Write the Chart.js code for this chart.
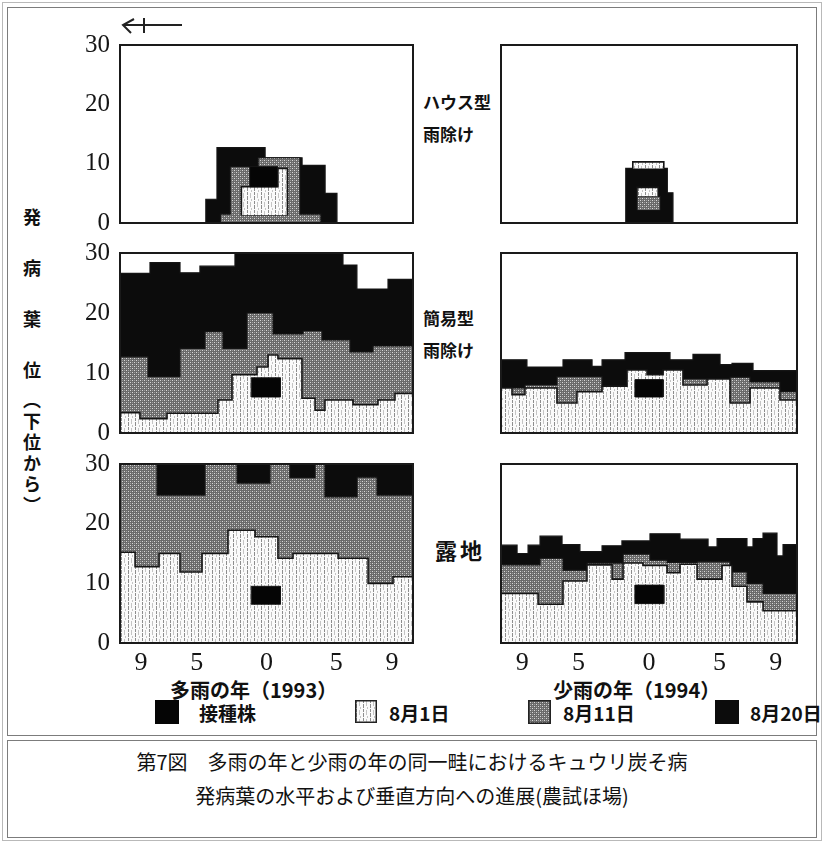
<!DOCTYPE html>
<html lang="ja">
<head>
<meta charset="utf-8">
<script src="https://cdn.jsdelivr.net/npm/chart.js@4.4.1/dist/chart.umd.min.js"></script>
<style>
  html, body { margin: 0; padding: 0; background: #fff; }
  body { width: 824px; height: 843px; position: relative; overflow: hidden;
         font-family: "Noto Sans CJK JP", "Noto Sans", sans-serif; color: #111; }
  .box { position: absolute; box-sizing: border-box; }
  .outer { left: 2px; top: 2px; width: 820px; height: 839px; border: 1px solid #b9b9b9; }
  .cell { border: 1px solid #7c7c7c; }
  canvas.panel { position: absolute; }
  .t { position: absolute; white-space: nowrap; line-height: 1; }
  .vert { writing-mode: vertical-rl; font-weight: 700; font-size: 18px; }
  .row { font-size: 17px; font-weight: 700; line-height: 32px; }
  .xt { font-size: 20px; font-weight: 700; }
  .lg { font-size: 19px; font-weight: 700; }
  .cap { font-size: 20px; left: 0; width: 824px; text-align: center; }
  canvas.sw { position: absolute; }
</style>
</head>
<body>
<div class="box outer"></div>
<div class="box cell" style="left:7px; top:7px; width:810px; height:729px;"></div>
<div class="box cell" style="left:7px; top:740px; width:810px; height:98px;"></div>

<svg style="position:absolute; left:118px; top:16px;" width="70" height="22">
  <path d="M5 9 L64 9" stroke="#222" stroke-width="2" fill="none"/>
  <path d="M16 3 L5 9 L13 17" stroke="#222" stroke-width="2" fill="none"/>
  <path d="M26 2 L26 17" stroke="#222" stroke-width="2"/>
</svg>

<div class="t vert" style="left:23px; top:208px; letter-spacing:33px;">発病葉位</div>
<div class="t vert" style="left:23px; top:391px; letter-spacing:3px;">（下位から）</div>

<div class="t row" style="left:423px; top:86px;">ハウス型<br>雨除け</div>
<div class="t row" style="left:423px; top:302px;">簡易型<br>雨除け</div>
<div class="t row" style="left:435px; top:533px; font-size:22px; letter-spacing:3px;">露地</div>

<div class="t xt" style="left:170px; top:680px;">多雨の年（1993）</div>
<div class="t xt" style="left:553px; top:680px;">少雨の年（1994）</div>

<canvas class="sw" id="sw0" width="24" height="24" style="left:155px; top:700px;"></canvas>
<div class="t lg" style="left:199px; top:703px;">接種株</div>
<canvas class="sw" id="sw1" width="22" height="23" style="left:355px; top:700px;"></canvas>
<div class="t lg" style="left:389px; top:703px;">8月1日</div>
<canvas class="sw" id="sw2" width="23" height="24" style="left:528px; top:700px;"></canvas>
<div class="t lg" style="left:563px; top:703px;">8月11日</div>
<canvas class="sw" id="sw3" width="24" height="24" style="left:715px; top:700px;"></canvas>
<div class="t lg" style="left:750px; top:703px;">8月20日</div>

<div class="t cap" style="top:752px;">第7図　多雨の年と少雨の年の同一畦におけるキュウリ炭そ病</div>
<div class="t cap" style="top:786px;">発病葉の水平および垂直方向への進展(農試ほ場)</div>

<canvas class="panel" id="pA" width="370" height="210" style="left:50px; top:30px;"></canvas>
<canvas class="panel" id="pD" width="315" height="210" style="left:490px; top:30px;"></canvas>
<canvas class="panel" id="pB" width="370" height="212" style="left:50px; top:238px;"></canvas>
<canvas class="panel" id="pE" width="315" height="212" style="left:490px; top:238px;"></canvas>
<canvas class="panel" id="pC" width="370" height="229" style="left:50px; top:449px;"></canvas>
<canvas class="panel" id="pF" width="315" height="229" style="left:490px; top:449px;"></canvas>

<script>
// Plant position along the row (0 = inoculated plant) and diseased leaf position (from the bottom).
const xTicks = [-9, -5, 0, 5, 9];
const yTicks = [0, 10, 20, 30];

// Each layer is a list of pieces; a piece is a list of steps [x, lowerLeaf, upperLeaf]
// closed by [xEnd].

// 多雨の年 (1993) — ハウス型雨除け
const wetHouseAug20 = [[[-4.35, 0, 4], [-3.55, 0, 12.7], [-0.1, 0, 11], [2.55, 0, 9.7], [4.2, 0, 5], [5.05]]];
const wetHouseAug11 = [[[-3.3, 0, 1.5], [-2.6, 0, 9.5], [-0.6, 0, 11], [2.4, 0, 1.5], [3.9]]];
const wetHouseAug1  = [[[-1.8, 1.3, 6.1], [0.8, 1.3, 9.2], [1.5]]];
const wetHouseInoc  = [[[-1.2, 6.1, 9.5], [0.8]]];

// 多雨の年 (1993) — 簡易型雨除け
const wetSimpleAug20 = [[[-10.5, 0, 26.6], [-8.35, 0, 28.4], [-6.2, 0, 26.7], [-4.77, 0, 27.8], [-2.26, 0, 30],
  [5.48, 0, 28], [6.48, 0, 24], [8.71, 0, 25.6], [10.5]]];
const wetSimpleAug11 = [[[-10.5, 0, 12.7], [-8.49, 0, 9.4], [-6.2, 0, 14.1], [-4.41, 0, 16.9], [-3.12, 0, 14.1],
  [-1.4, 0, 20], [0.47, 0, 16.5], [2.62, 0, 17], [3.98, 0, 15.5], [5.99, 0, 13.5], [7.63, 0, 14.5], [10.5]]];
const wetSimpleAug1 = [[[-10.5, 0, 3.4], [-9.07, 0, 2.4], [-7.13, 0, 3.3], [-3.48, 0, 5.5], [-2.47, 0, 9.7],
  [-0.68, 0, 11], [0.11, 0, 13], [0.82, 0, 12.4], [2.54, 0, 5.8], [3.48, 0, 3.8], [4.19, 0, 5.5],
  [6.2, 0, 4.7], [7.99, 0, 5.5], [9.21, 0, 6.6], [10.5]]];
const wetSimpleInoc = [[[-1.1, 6, 9.2], [1.0]]];

// 多雨の年 (1993) — 露地
const wetOpenAug20 = [[[-10.5, 0, 30], [10.5]]];
const wetOpenAug11 = [[[-10.5, 0, 30], [-7.85, 0, 24.8], [-4.41, 0, 30], [-2.11, 0, 26.8], [0.25, 0, 30],
  [1.68, 0, 27.7], [3.48, 0, 30], [4.19, 0, 24.5], [6.49, 0, 27.8], [7.92, 0, 24.8], [10.5]]];
const wetOpenAug1 = [[[-10.5, 0, 15.2], [-9.42, 0, 12.8], [-7.7, 0, 15], [-6.2, 0, 11.9], [-4.62, 0, 15],
  [-2.76, 0, 18.9], [-0.82, 0, 17.8], [0.82, 0, 14.2], [1.9, 0, 15], [5.13, 0, 14.2], [7.28, 0, 10],
  [9.07, 0, 11.1], [10.5]]];
const wetOpenInoc = [[[-1.1, 6.5, 9.5], [1.0]]];

// 少雨の年 (1994) — ハウス型雨除け
const dryHouseAug20 = [[[-1.65, 0, 9.2], [1.3, 0, 5.1], [1.7]]];
const dryHouseAug11 = [[[-0.85, 2.2, 4.5], [0.8]]];
const dryHouseAug1  = [[[-0.85, 4.5, 6.0], [0.65]], [[-1.15, 9.2, 10.3], [1.05]]];
const dryHouseInoc  = [];

// 少雨の年 (1994) — 簡易型雨除け
const drySimpleAug20 = [[[-10.5, 0, 12.2], [-8.66, 0, 11], [-6.1, 0, 12.2], [-4.04, 0, 11.1], [-3.33, 0, 12.2],
  [-1.7, 0, 13.4], [1.49, 0, 12.2], [3.12, 0, 13.1], [5.04, 0, 11.4], [5.89, 0, 11.6], [7.38, 0, 10.4], [10.5]]];
const drySimpleAug11 = [[[-10.5, 0, 7.5], [-9.72, 0, 7.5], [-8.8, 0, 8], [-6.53, 0, 9.4], [-3.33, 0, 7.8],
  [-1.56, 0, 10.5], [-0.14, 0, 9.7], [1.0, 0, 10.5], [2.41, 0, 9.0], [5.75, 0, 9.3], [7.17, 0, 8.5],
  [9.29, 0, 6.9], [10.5]]];
const drySimpleAug1 = [[[-10.5, 0, 7.5], [-9.72, 0, 6.4], [-8.8, 0, 7.5], [-6.53, 0, 5.0], [-5.11, 0, 6.9],
  [-3.33, 0, 7.8], [-1.56, 0, 10.5], [-0.14, 0, 9.7], [1.0, 0, 10.5], [2.41, 0, 8.0], [4.12, 0, 9.0],
  [5.75, 0, 5.0], [7.17, 0, 7.5], [9.29, 0, 5.5], [10.5]]];
const drySimpleInoc = [[[-1.0, 6, 8.9], [1.0]]];

// 少雨の年 (1994) — 露地
const dryOpenAug20 = [[[-10.5, 0, 16.4], [-9.36, 0, 15], [-8.58, 0, 16.4], [-7.73, 0, 17.9], [-6.17, 0, 16.5],
  [-4.9, 0, 15.3], [-3.33, 0, 16.3], [-1.92, 0, 17.1], [0.07, 0, 18.3], [2.2, 0, 17.4], [4.19, 0, 16.1],
  [4.83, 0, 17.5], [6.95, 0, 16.1], [7.38, 0, 17.5], [8.09, 0, 18.4], [9.08, 0, 14.6], [9.51, 0, 16.5], [10.5]]];
const dryOpenAug11 = [[[-10.5, 0, 13.1], [-7.73, 0, 14.2], [-6.1, 0, 12.2], [-4.4, 0, 13.4], [-1.84, 0, 14.9],
  [0.07, 0, 13.9], [1.28, 0, 13.5], [3.41, 0, 13.6], [5.75, 0, 11.9], [6.95, 0, 10], [8.09, 0, 8.3], [10.5]]];
const dryOpenAug1 = [[[-10.5, 0, 8.3], [-7.87, 0, 6.5], [-6.1, 0, 10.4], [-4.4, 0, 13.1], [-2.62, 0, 10.7],
  [-1.84, 0, 13.4], [-0.43, 0, 13], [1.28, 0, 11.8], [2.2, 0, 13.2], [3.41, 0, 10.7], [5.18, 0, 13],
  [5.89, 0, 9.5], [6.95, 0, 6.9], [8.09, 0, 5.4], [10.5]]];
const dryOpenInoc = [[[-1.0, 6.6, 9.7], [1.05]]];

// ---- fills ----
function makePattern(w, h, paint) {
  const c = document.createElement('canvas');
  c.width = w; c.height = h;
  const g = c.getContext('2d');
  paint(g);
  return g.createPattern(c, 'repeat');
}
// 8月1日: white with fine broken vertical hatching
const paintLight = g => {
  g.fillStyle = '#fafafa'; g.fillRect(0, 0, 7, 9);
  g.fillStyle = '#8d8d8d';
  g.fillRect(1, 0, 1, 3); g.fillRect(1, 4, 1, 4);
  g.fillStyle = '#c4c4c4';
  g.fillRect(4, 1, 1, 5); g.fillRect(5, 7, 1, 2);
};
// 8月11日: dotted half-tone grey
const paintGray = g => {
  g.fillStyle = '#6a6a6a'; g.fillRect(0, 0, 4, 4);
  g.fillStyle = '#d8d8d8';
  g.fillRect(0, 0, 1, 1); g.fillRect(2, 2, 1, 1);
  g.fillStyle = '#9c9c9c';
  g.fillRect(2, 0, 1, 1); g.fillRect(0, 2, 1, 1);
};
const lightFill = makePattern(7, 9, paintLight);
const grayFill = makePattern(4, 4, paintGray);
const blackFill = '#0c0c0c';
const inocFill = '#050505';

function bandLines(piece) {
  const upper = [], lower = [];
  const n = piece.length - 1;
  for (let i = 0; i < n; i++) {
    const [x0, lo, hi] = piece[i];
    const x1 = piece[i + 1][0];
    if (i === 0) upper.push({ x: x0, y: lo });
    upper.push({ x: x0, y: hi }, { x: x1, y: hi });
    lower.push({ x: x0, y: lo }, { x: x1, y: lo });
  }
  upper.push({ x: piece[n][0], y: piece[n - 1][1] });
  return { upper, lower };
}

function layerSets(pieces, fill, edge) {
  const out = [];
  pieces.forEach(p => {
    const { upper, lower } = bandLines(p);
    out.push({ data: upper, fill: '+1', backgroundColor: fill, borderColor: '#151515',
               borderWidth: edge, pointRadius: 0, tension: 0 });
    out.push({ data: lower, fill: false, borderColor: '#151515', borderWidth: edge,
               pointRadius: 0, tension: 0 });
  });
  return out;
}

const framePlugin = {
  id: 'frame',
  afterDraw(chart) {
    const { ctx, chartArea: a } = chart;
    ctx.save();
    ctx.strokeStyle = '#1a1a1a';
    ctx.lineWidth = 2;
    ctx.strokeRect(a.left, a.top, a.right - a.left, a.bottom - a.top);
    ctx.restore();
  }
};

const serif = "'Liberation Serif', 'DejaVu Serif', serif";

function panel(id, layers, opts) {
  const datasets = [
    ...layerSets(layers.inoc, inocFill, 1),
    ...layerSets(layers.aug1, lightFill, 1.6),
    ...layerSets(layers.aug11, grayFill, 1.2),
    ...layerSets(layers.aug20, blackFill, 1.2)
  ];
  new Chart(document.getElementById(id), {
    type: 'line',
    data: { datasets },
    plugins: [framePlugin],
    options: {
      responsive: false,
      animation: false,
      events: [],
      layout: { padding: { left: opts.padLeft, right: opts.padRight, top: 15, bottom: opts.xAxis ? 0 : 17 } },
      plugins: { legend: { display: false }, tooltip: { enabled: false } },
      scales: {
        x: {
          type: 'linear', min: -10.5, max: 10.5,
          display: opts.xAxis,
          grid: { display: false, drawTicks: false },
          border: { display: false },
          afterBuildTicks: s => { s.ticks = xTicks.map(v => ({ value: v })); },
          afterFit: s => {
            if (opts.xAxis) s.height = 35;
            s.paddingLeft = 0; s.paddingRight = 0;
          },
          ticks: {
            autoSkip: false, maxRotation: 0, padding: 5,
            font: { family: serif, size: 26 }, color: '#151515',
            callback: v => String(Math.abs(v))
          }
        },
        y: {
          min: 0, max: 30,
          display: opts.yAxis,
          grid: { display: false, drawTicks: false },
          border: { display: false },
          afterBuildTicks: s => { s.ticks = yTicks.map(v => ({ value: v })); },
          afterFit: s => {
            if (opts.yAxis) s.width = 70;
            s.paddingTop = 0; s.paddingBottom = 0;
          },
          ticks: { padding: 10, font: { family: serif, size: 25 }, color: '#151515' }
        }
      }
    }
  });
}

const leftOpts = { padLeft: 0, padRight: 7, yAxis: true };
const rightOpts = { padLeft: 11, padRight: 8, yAxis: false };

panel('pA', { inoc: wetHouseInoc, aug1: wetHouseAug1, aug11: wetHouseAug11, aug20: wetHouseAug20 }, { ...leftOpts, xAxis: false });
panel('pB', { inoc: wetSimpleInoc, aug1: wetSimpleAug1, aug11: wetSimpleAug11, aug20: wetSimpleAug20 }, { ...leftOpts, xAxis: false });
panel('pC', { inoc: wetOpenInoc, aug1: wetOpenAug1, aug11: wetOpenAug11, aug20: wetOpenAug20 }, { ...leftOpts, xAxis: true });
panel('pD', { inoc: dryHouseInoc, aug1: dryHouseAug1, aug11: dryHouseAug11, aug20: dryHouseAug20 }, { ...rightOpts, xAxis: false });
panel('pE', { inoc: drySimpleInoc, aug1: drySimpleAug1, aug11: drySimpleAug11, aug20: drySimpleAug20 }, { ...rightOpts, xAxis: false });
panel('pF', { inoc: dryOpenInoc, aug1: dryOpenAug1, aug11: dryOpenAug11, aug20: dryOpenAug20 }, { ...rightOpts, xAxis: true });

// legend swatches
function swatch(id, fill, outline) {
  const c = document.getElementById(id);
  const g = c.getContext('2d');
  g.fillStyle = fill;
  g.fillRect(0, 0, c.width, c.height);
  if (outline) {
    g.strokeStyle = '#222'; g.lineWidth = 1.5;
    g.strokeRect(0.75, 0.75, c.width - 1.5, c.height - 1.5);
  }
}
swatch('sw0', inocFill, false);
swatch('sw1', lightFill, true);
swatch('sw2', grayFill, true);
swatch('sw3', blackFill, false);
</script>
</body>
</html>
